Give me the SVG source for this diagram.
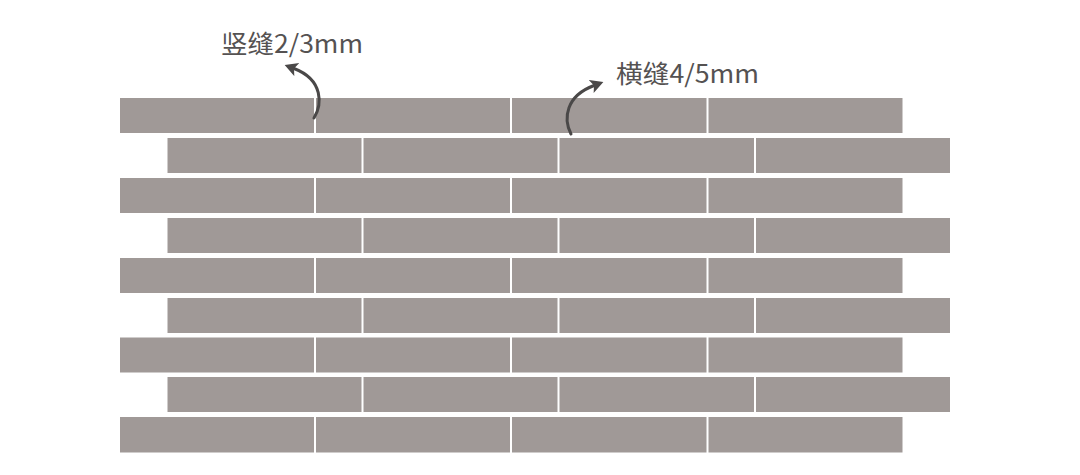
<svg xmlns="http://www.w3.org/2000/svg" width="1080" height="475" viewBox="0 0 1080 475">
<style>
.b{fill:#a09997}
.lbl{font-family:"Noto Sans CJK SC","Noto Sans",sans-serif;font-size:25px;fill:#555252}
.arr{fill:none;stroke:#4a4848;stroke-width:3;stroke-linecap:round}
</style>
<defs>
<marker id="ah" markerUnits="userSpaceOnUse" markerWidth="16" markerHeight="16" refX="3" refY="7" orient="auto">
<path d="M0,0 L13,7 L0,14 L3,7 z" fill="#4a4848"/>
</marker>
</defs>
<rect width="1080" height="475" fill="#fff"/>
<g id="bricks">
<g id="row1"><rect class="b" x="120" y="98" width="194" height="35"/><rect class="b" x="316" y="98" width="194" height="35"/><rect class="b" x="512" y="98" width="194.5" height="35"/><rect class="b" x="708.5" y="98" width="194" height="35"/></g>
<g id="row2"><rect class="b" x="167.5" y="138" width="194" height="35"/><rect class="b" x="363.5" y="138" width="194" height="35"/><rect class="b" x="559.5" y="138" width="194.5" height="35"/><rect class="b" x="756" y="138" width="194" height="35"/></g>
<g id="row3"><rect class="b" x="120" y="178" width="194" height="35"/><rect class="b" x="316" y="178" width="194" height="35"/><rect class="b" x="512" y="178" width="194.5" height="35"/><rect class="b" x="708.5" y="178" width="194" height="35"/></g>
<g id="row4"><rect class="b" x="167.5" y="218" width="194" height="35"/><rect class="b" x="363.5" y="218" width="194" height="35"/><rect class="b" x="559.5" y="218" width="194.5" height="35"/><rect class="b" x="756" y="218" width="194" height="35"/></g>
<g id="row5"><rect class="b" x="120" y="258" width="194" height="35"/><rect class="b" x="316" y="258" width="194" height="35"/><rect class="b" x="512" y="258" width="194.5" height="35"/><rect class="b" x="708.5" y="258" width="194" height="35"/></g>
<g id="row6"><rect class="b" x="167.5" y="298" width="194" height="35"/><rect class="b" x="363.5" y="298" width="194" height="35"/><rect class="b" x="559.5" y="298" width="194.5" height="35"/><rect class="b" x="756" y="298" width="194" height="35"/></g>
<g id="row7"><rect class="b" x="120" y="337.5" width="194" height="35"/><rect class="b" x="316" y="337.5" width="194" height="35"/><rect class="b" x="512" y="337.5" width="194.5" height="35"/><rect class="b" x="708.5" y="337.5" width="194" height="35"/></g>
<g id="row8"><rect class="b" x="167.5" y="377" width="194" height="35"/><rect class="b" x="363.5" y="377" width="194" height="35"/><rect class="b" x="559.5" y="377" width="194.5" height="35"/><rect class="b" x="756" y="377" width="194" height="35"/></g>
<g id="row9"><rect class="b" x="120" y="417" width="194" height="35.5"/><rect class="b" x="316" y="417" width="194" height="35.5"/><rect class="b" x="512" y="417" width="194.5" height="35.5"/><rect class="b" x="708.5" y="417" width="194" height="35.5"/></g>
</g>
<g id="connectors">
<path class="arr" d="M314,118 C322,105 324,80 294,68.5" marker-end="url(#ah)"/>
<path class="arr" d="M571,134 C563,118 566,96 594,85.5" marker-end="url(#ah)"/>
</g>
<g id="label-vertical"><text class="lbl" x="221" y="53" textLength="142" lengthAdjust="spacingAndGlyphs">竖缝2/3mm</text></g>
<g id="label-horizontal"><text class="lbl" x="616" y="83" textLength="143" lengthAdjust="spacingAndGlyphs">横缝4/5mm</text></g>
</svg>
